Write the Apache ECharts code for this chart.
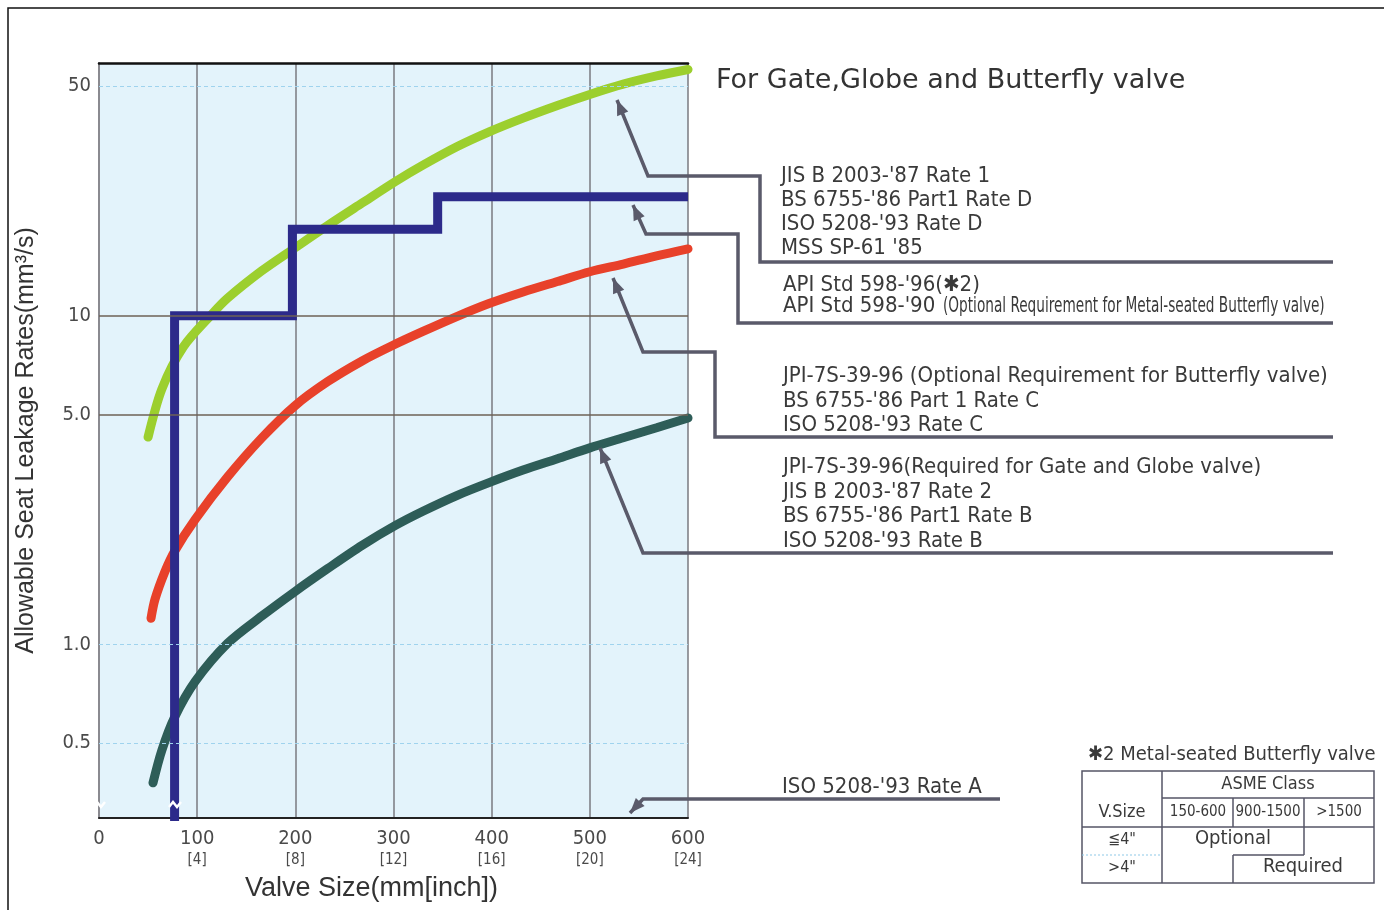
<!DOCTYPE html>
<html>
<head>
<meta charset="utf-8">
<title>Allowable Seat Leakage Rates</title>
<script src="https://cdn.jsdelivr.net/npm/echarts@6.0.0/dist/echarts.min.js"></script>
<style>
  html, body { margin: 0; padding: 0; background: #fff; }
  #chart { width: 1384px; height: 910px; }
</style>
</head>
<body>
<div id="chart"></div>
<script>
// axis ticks
const xTicks = [0, 100, 200, 300, 400, 500, 600];
const xTickMm = ['0', '100', '200', '300', '400', '500', '600'];
const xTickInch = ['', '[4]', '[8]', '[12]', '[16]', '[20]', '[24]'];
const yTicks = [0.5, 1, 5, 10, 50];
const yTickLabels = ['0.5', '1.0', '5.0', '10', '50'];
const Y_MIN = 0.2962;
const Y_MAX = 58.7;

// Rate 1 / Rate D (green)
const sizeGreen = [50, 64, 86, 115, 131, 166, 200, 233, 268, 302, 330, 365, 398, 432, 467, 500, 534, 568, 600];
const rateGreen = [4.27, 5.98, 8.04, 10.1, 11.3, 13.7, 16.1, 18.8, 22.0, 25.6, 28.7, 32.7, 36.3, 39.9, 43.6, 47.1, 50.6, 53.6, 56.1];

// Rate C (red)
const sizeRed = [53, 57, 67, 77, 98, 131, 166, 200, 233, 268, 299, 330, 365, 398, 432, 467, 500, 534, 568, 600];
const rateRed = [1.20, 1.37, 1.66, 1.92, 2.40, 3.23, 4.25, 5.33, 6.30, 7.28, 8.11, 8.95, 9.95, 10.9, 11.8, 12.7, 13.6, 14.35, 15.2, 15.96];

// Rate 2 / Rate B (dark teal)
const sizeTeal = [55, 64, 77, 98, 131, 166, 200, 233, 268, 302, 330, 365, 398, 432, 467, 500, 534, 568, 600];
const rateTeal = [0.379, 0.476, 0.600, 0.771, 1.007, 1.22, 1.45, 1.70, 2.00, 2.30, 2.54, 2.84, 3.11, 3.39, 3.67, 3.96, 4.25, 4.56, 4.88];

// API 598 (blue step)
const sizeBlue = [77, 77, 197, 197, 345, 345, 600];
const rateBlue = [0.29, 10, 10, 18.3, 18.3, 23.0, 23.0];

const narrow = "'Liberation Sans Narrow', 'DejaVu Sans Condensed', 'Liberation Sans', sans-serif";
const plain = "'Liberation Sans', Arial, sans-serif";
const wide = "'DejaVu Sans', 'Liberation Sans', sans-serif";

function pairs(xs, ys) {
  return xs.map((x, i) => [x, ys[i]]);
}

function curve(name, xs, ys, color) {
  return {
    name: name,
    type: 'line',
    smooth: 0.3,
    showSymbol: false,
    z: 3,
    lineStyle: { color: color, width: 9, cap: 'round' },
    data: pairs(xs, ys)
  };
}

// leader line with arrow at the first point
function leader(pts) {
  const [x0, y0] = pts[0], [x1, y1] = pts[1];
  const a = Math.atan2(y0 - y1, x0 - x1);
  const L = 15, W = 6;
  const bx = x0 - L * Math.cos(a), by = y0 - L * Math.sin(a);
  return [
    { type: 'polyline', z: 10, shape: { points: pts }, style: { stroke: '#5a5a6a', lineWidth: 3.5, fill: null } },
    { type: 'polygon', z: 10, shape: { points: [[x0, y0], [bx - W * Math.sin(a), by + W * Math.cos(a)], [bx + W * Math.sin(a), by - W * Math.cos(a)]] }, style: { fill: '#5a5a6a' } }
  ];
}

function txt(x, y, s, size, extra) {
  return Object.assign({
    type: 'text', z: 10, x: x, y: y,
    style: { text: s, fill: '#3a3a3a', font: size + 'px ' + narrow, textVerticalAlign: 'middle' }
  }, extra || {});
}

function tline(x1, y1, x2, y2, dashed) {
  return { type: 'line', z: 10, shape: { x1: x1, y1: y1, x2: x2, y2: y2 },
    style: { stroke: dashed ? '#8fc9e8' : '#555566', lineWidth: dashed ? 1 : 1.5, lineDash: dashed ? [2, 2] : null } };
}

// small white break marks near the bottom of the y axis and the blue line
function breakMark(x, y) {
  return { type: 'polyline', z: 12, shape: { points: [[x - 7, y + 2], [x - 3, y - 3], [x + 1, y + 2], [x + 5, y - 3]] },
    style: { stroke: '#fff', lineWidth: 2.5, fill: null } };
}

let graphics = [];
// outer frame
graphics.push({ type: 'polyline', shape: { points: [[8, 910], [8, 8], [1384, 8]] }, style: { stroke: '#111', lineWidth: 1.5, fill: null } });

graphics = graphics.concat(
  leader([[617, 100], [648, 176], [760, 176], [760, 262], [1333, 262]]),
  leader([[633, 205], [646, 234], [738, 234], [738, 323], [1333, 323]]),
  leader([[613, 278], [643, 352], [715, 352], [715, 437], [1333, 437]]),
  leader([[600, 448], [643, 553], [1333, 553]]),
  leader([[630, 813], [643, 799], [1000, 799]])
);
graphics.push(breakMark(100, 805), breakMark(176, 805));

const noteSize = 22;
graphics.push(
  txt(781, 176, "JIS B 2003-'87 Rate 1", noteSize),
  txt(781, 200, "BS 6755-'86 Part1 Rate D", noteSize),
  txt(781, 224, "ISO 5208-'93 Rate D", noteSize),
  txt(781, 248, "MSS SP-61 '85", noteSize),
  txt(783, 285, "API Std 598-'96(\u27312)", noteSize),
  txt(783, 306, "API Std 598-'90", noteSize),
  txt(943, 306, "(Optional Requirement for Metal-seated Butterfly valve)", noteSize, { scaleX: 0.69, originX: 0 }),
  txt(783, 376, "JPI-7S-39-96 (Optional Requirement for Butterfly valve)", noteSize),
  txt(783, 401, "BS 6755-'86 Part 1 Rate C", noteSize),
  txt(783, 425, "ISO 5208-'93 Rate C", noteSize),
  txt(783, 467, "JPI-7S-39-96(Required for Gate and Globe valve)", noteSize),
  txt(783, 492, "JIS B 2003-'87 Rate 2", noteSize),
  txt(783, 516, "BS 6755-'86 Part1 Rate B", noteSize),
  txt(783, 541, "ISO 5208-'93 Rate B", noteSize),
  txt(782, 787, "ISO 5208-'93 Rate A", noteSize)
);

// *2 table
const cellText = (x, y, s, size) => txt(x, y, s, size || 18, { style: { text: s, fill: '#3a3a3a', font: (size || 18) + 'px ' + narrow, textVerticalAlign: 'middle', textAlign: 'center' } });
graphics.push(
  txt(1088, 755, "\u27312 Metal-seated Butterfly valve", 20),
  { type: 'rect', z: 10, shape: { x: 1082, y: 771, width: 292, height: 112 }, style: { fill: null, stroke: '#555566', lineWidth: 1.5 } },
  tline(1162, 771, 1162, 883),
  tline(1162, 798, 1374, 798),
  tline(1233, 798, 1233, 827),
  tline(1304, 798, 1304, 827),
  tline(1082, 827, 1374, 827),
  tline(1304, 827, 1304, 855),
  tline(1233, 855, 1304, 855),
  tline(1233, 855, 1233, 883),
  tline(1082, 855, 1162, 855, true),
  cellText(1268, 784, 'ASME Class'),
  cellText(1122, 812, 'V.Size'),
  cellText(1198, 812, '150-600', 15),
  cellText(1268, 812, '900-1500', 15),
  cellText(1339, 812, '>1500', 15),
  cellText(1122, 840, '\u22664"', 16),
  cellText(1122, 868, '>4"', 16),
  cellText(1233, 839, 'Optional', 20),
  cellText(1303, 867, 'Required', 20)
);

const chart = echarts.init(document.getElementById('chart'));
chart.setOption({
  backgroundColor: '#fff',
  animation: false,
  title: {
    text: 'For Gate,Globe and Butterfly valve',
    left: 711, top: 62,
    textStyle: { fontFamily: wide, fontSize: 27, fontWeight: 'normal', color: '#333' }
  },
  grid: {
    left: 99, right: 696, top: 63, bottom: 92,
    show: true, backgroundColor: '#e3f3fb', borderWidth: 0
  },
  xAxis: [{
    type: 'value', min: 0, max: 600, interval: 100,
    name: 'Valve Size(mm[inch])', nameLocation: 'middle', nameGap: 57,
    nameTextStyle: { fontFamily: plain, fontSize: 27, color: '#333', padding: [0, 44, 0, 0] },
    axisLine: { lineStyle: { color: '#222', width: 2 } },
    axisTick: { show: false },
    splitLine: { show: true, lineStyle: { color: '#7a7a80', width: 1.5 } },
    axisLabel: {
      margin: 10,
      formatter: v => {
        const i = xTicks.indexOf(v);
        return xTickInch[i] ? '{mm|' + xTickMm[i] + '}\n{inch|' + xTickInch[i] + '}' : '{mm|' + xTickMm[i] + '}';
      },
      rich: {
        mm: { fontFamily: narrow, fontSize: 20, color: '#4a4a4a', lineHeight: 22 },
        inch: { fontFamily: narrow, fontSize: 15, color: '#4a4a4a', lineHeight: 20 }
      }
    }
  }, {
    type: 'value', min: 0, max: 600, position: 'top',
    axisLine: { show: true, lineStyle: { color: '#111', width: 2.5 } },
    axisTick: { show: false }, axisLabel: { show: false }, splitLine: { show: false }
  }],
  yAxis: {
    type: 'log', logBase: 10, min: Y_MIN, max: Y_MAX,
    name: 'Allowable Seat Leakage Rates(mm\u00b3/s)', nameLocation: 'middle', nameGap: 60,
    nameTextStyle: { fontFamily: plain, fontSize: 25, color: '#333' },
    axisLine: { show: true, lineStyle: { color: '#8a8a90', width: 2 } },
    axisTick: { show: false },
    splitLine: { show: false },
    axisLabel: {
      customValues: yTicks,
      margin: 8,
      fontFamily: narrow, fontSize: 20, color: '#4a4a4a',
      formatter: v => {
        const i = yTicks.findIndex(t => Math.abs(t - v) < 1e-9);
        return i >= 0 ? yTickLabels[i] : '';
      }
    }
  },
  series: [
    {
      name: 'grid', type: 'line', data: [], z: 1, silent: true,
      markLine: {
        silent: true, symbol: 'none', label: { show: false }, animation: false,
        data: yTicks.map(t => ({
          yAxis: t,
          lineStyle: (t === 5 || t === 10)
            ? { color: '#6e6256', width: 1.5, type: 'solid' }
            : { color: '#9fd3ee', width: 1.2, type: [4, 3] }
        }))
      }
    },
    curve('Rate 1 / Rate D', sizeGreen, rateGreen, '#9ccf2e'),
    curve('Rate C', sizeRed, rateRed, '#e8412a'),
    curve('Rate 2 / Rate B', sizeTeal, rateTeal, '#2e5d58'),
    {
      name: 'API 598',
      type: 'line',
      showSymbol: false,
      z: 4,
      lineStyle: { color: '#2c2a8a', width: 9, join: 'miter' },
      data: pairs(sizeBlue, rateBlue)
    }
  ],
  graphic: graphics
});
</script>
</body>
</html>
